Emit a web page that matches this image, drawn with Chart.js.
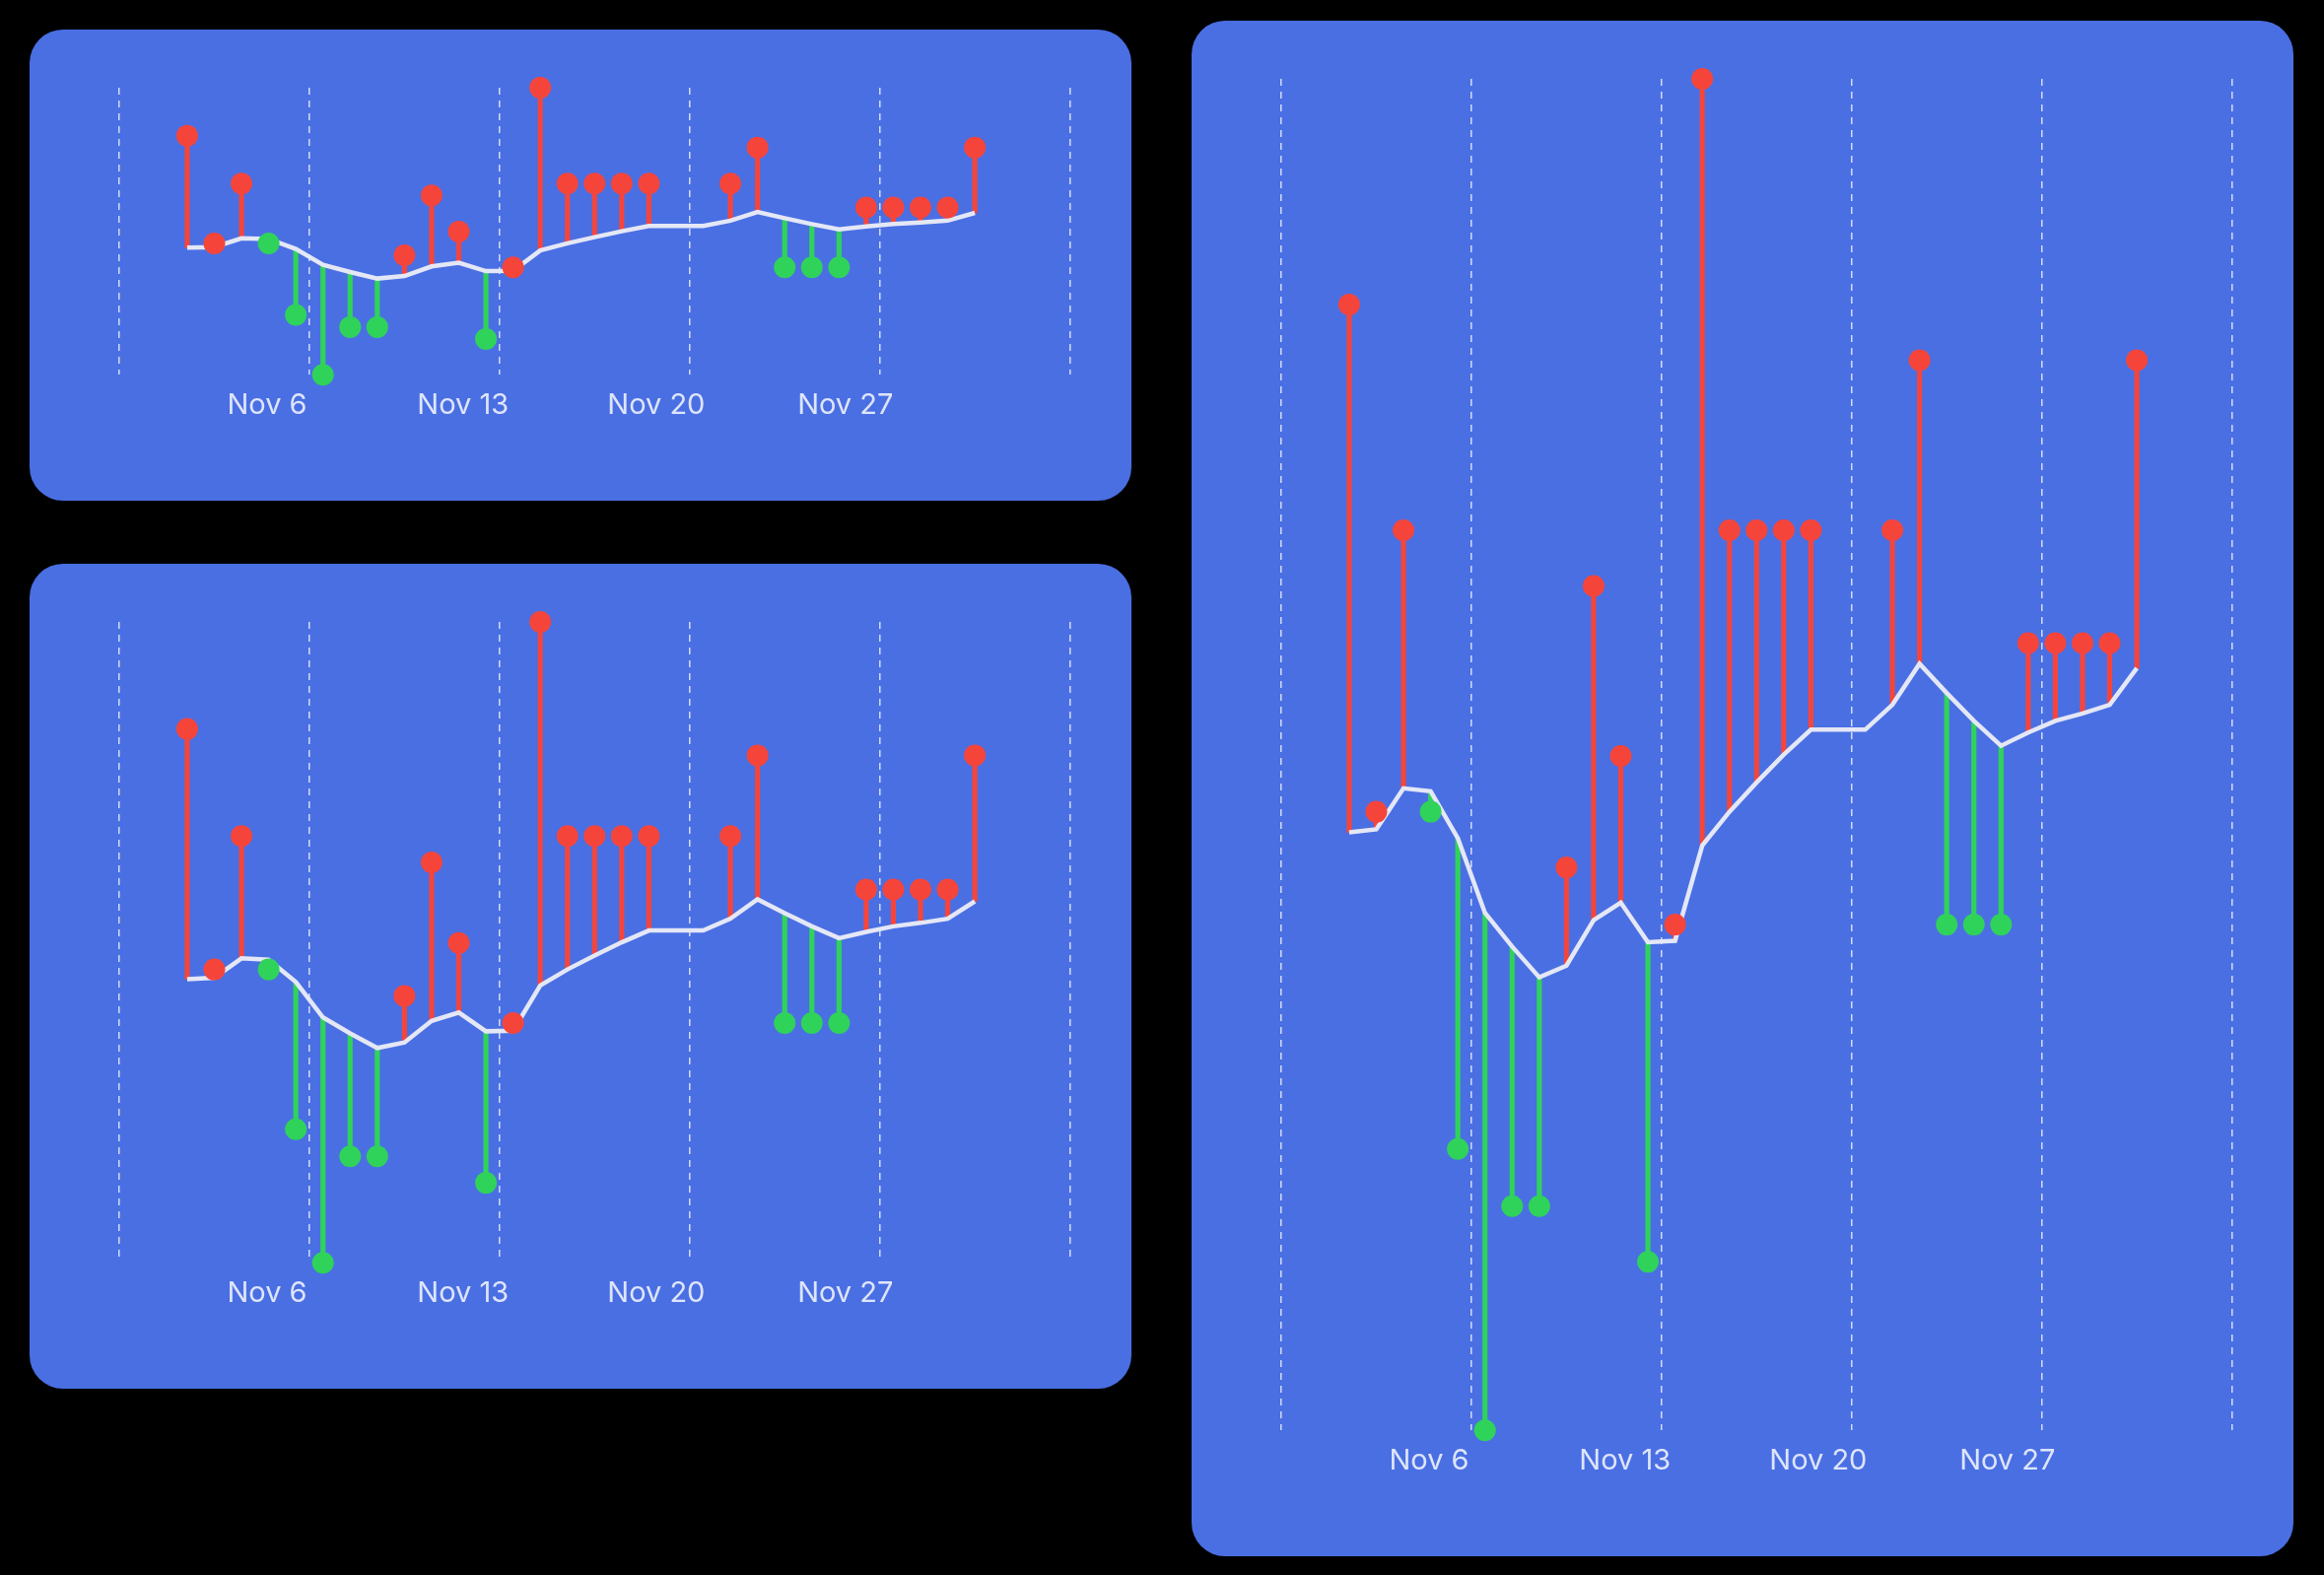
<!DOCTYPE html>
<html>
<head>
<meta charset="utf-8">
<script src="https://cdn.jsdelivr.net/npm/chart.js@4.4.1/dist/chart.umd.min.js"></script>
<style>
  html, body { margin: 0; padding: 0; background: #000; width: 2358px; height: 1598px; overflow: hidden; }
  .panel { position: absolute; background: #4A6FE3; border-radius: 34px; overflow: hidden; }
  .panel canvas { position: absolute; left: 0; top: 0; }
</style>
</head>
<body>
<div class="panel" id="p1" style="left:30px;top:30px;width:1118px;height:478px"><canvas id="c1"></canvas></div>
<div class="panel" id="p2" style="left:30px;top:572px;width:1118px;height:837px"><canvas id="c2"></canvas></div>
<div class="panel" id="p3" style="left:1209px;top:21px;width:1118px;height:1558px"><canvas id="c3"></canvas></div>
<script>
// days Nov 5 .. Dec 4
const dayLabels = ["Nov 5", "Nov 6", "Nov 7", "Nov 8", "Nov 9", "Nov 10", "Nov 11", "Nov 12", "Nov 13", "Nov 14",
    "Nov 15", "Nov 16", "Nov 17", "Nov 18", "Nov 19", "Nov 20", "Nov 21", "Nov 22", "Nov 23", "Nov 24",
    "Nov 25", "Nov 26", "Nov 27", "Nov 28", "Nov 29", "Nov 30", "Dec 1", "Dec 2", "Dec 3", "Dec 4"];
const tickDays = [1, 8, 15, 22, 29];
const tickLabels = ["Nov 6", "Nov 13", "Nov 20", "Nov 27", ""];

// baseline (white line)
const baseline = [43.3, 43.5, 46.3, 46.1, 42.9, 37.8, 35.5, 33.4, 34.2, 37.3,
    38.5, 35.8, 35.9, 42.4, 44.7, 46.7, 48.6, 50.3, 50.3, 50.3,
    52.0, 54.8, 52.8, 50.9, 49.2, 50.1, 50.9, 51.4, 52.0, 54.5];
// actual values (dots); null where no dot
const actual = [79.3, 44.7, 63.9, 44.7, 21.7, 2.5, 17.8, 17.8, 40.9, 60.1,
    48.5, 14.0, 37.0, 94.7, 63.9, 63.9, 63.9, 63.9, null, null,
    63.9, 75.5, 37.0, 37.0, 37.0, 56.2, 56.2, 56.2, 56.2, 75.5];

const RED = "#F5453B";
const GREEN = "#2FD35A";
const LINE = "#E4E7F6";

const yMin = Math.min(...actual.filter(v => v !== null));
const yMax = Math.max(...actual.filter(v => v !== null));

function buildChart(id, w, h) {
    const canvas = document.getElementById(id);
    canvas.width = w;
    canvas.height = h;
    canvas.style.width = w + "px";
    canvas.style.height = h + "px";

    const stems = actual.map((v, i) => ({ x: i, y: v === null ? null : [baseline[i], v] }));
    const stemColors = actual.map((v, i) => v !== null && v < baseline[i] ? GREEN : RED);
    const dots = actual.map((v, i) => ({ x: i, y: v }));

    return new Chart(canvas.getContext("2d"), {
        data: {
            datasets: [
                {
                    type: "bar",
                    data: stems,
                    backgroundColor: stemColors,
                    barThickness: 4.5,
                    clip: false,
                    order: 3
                },
                {
                    type: "line",
                    data: baseline.map((v, i) => ({ x: i, y: v })),
                    borderColor: LINE,
                    borderWidth: 4.5,
                    pointRadius: 0,
                    tension: 0,
                    clip: false,
                    order: 2
                },
                {
                    type: "scatter",
                    data: dots,
                    backgroundColor: stemColors,
                    borderWidth: 0,
                    pointRadius: 11,
                    clip: false,
                    order: 1
                }
            ]
        },
        options: {
            responsive: false,
            animation: false,
            layout: { padding: { left: 60, right: 59, top: 59, bottom: 65 } },
            plugins: { legend: { display: false }, tooltip: { enabled: false } },
            scales: {
                x: {
                    type: "linear",
                    min: 0,
                    max: 29,
                    afterBuildTicks: axis => {
                        axis.ticks = tickDays.map(v => ({ value: v }));
                    },
                    grid: { color: "rgba(255,255,255,0.75)", lineWidth: 1.5, drawTicks: false },
                    border: { display: false, dash: [7, 6] },
                    ticks: {
                        color: "rgba(255,255,255,0.82)",
                        font: { family: "Inter", size: 29 },
                        align: "start",
                        labelOffset: 13,
                        padding: 14,
                        maxRotation: 0,
                        autoSkip: false,
                        callback: v => tickLabels[tickDays.indexOf(v)] ?? ""
                    }
                },
                y: {
                    min: yMin,
                    max: yMax,
                    display: false
                }
            }
        }
    });
}

buildChart("c1", 1118, 478);
buildChart("c2", 1118, 837);
buildChart("c3", 1118, 1558);
</script>
</body>
</html>
